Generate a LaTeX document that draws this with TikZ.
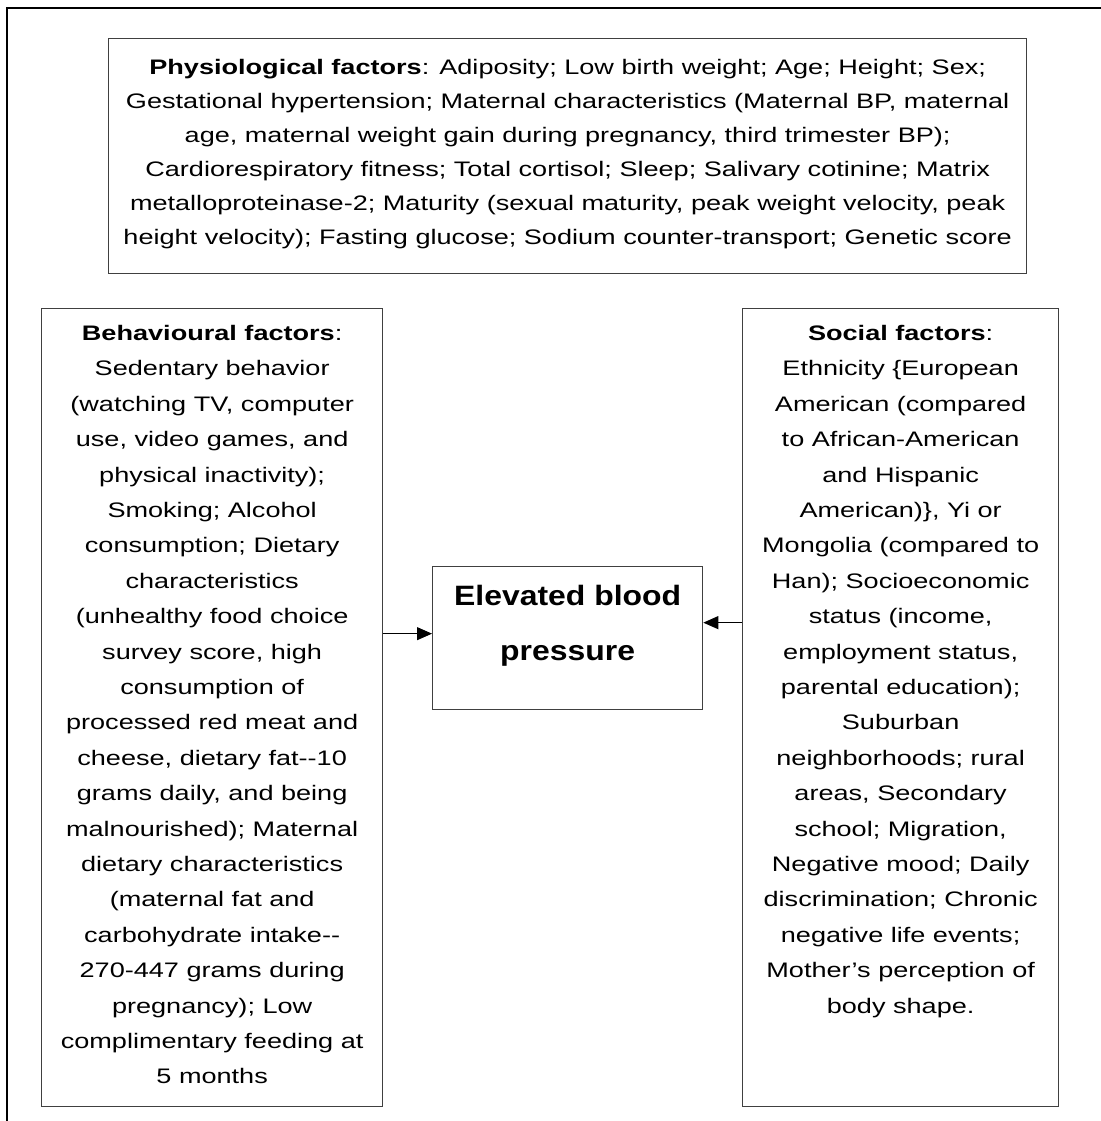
\documentclass[tikz,border=0pt]{standalone}
\usepackage{fontspec}
\setmainfont{Liberation Sans}[FakeStretch=1.29]
\newfontfamily\bpfont{Liberation Sans}[FakeStretch=1.14]
\usetikzlibrary{arrows.meta,positioning,calc}
\tikzset{
  factorbox/.style={draw=black!75,line width=0.65pt,inner sep=0pt,anchor=north west},
  factortext/.style={inner sep=0pt,align=center,anchor=north,font=\fontsize{10.5}{17.7}\selectfont},
  arr/.style={-{Triangle[length=7.5pt,width=6.5pt]},line width=0.5pt}
}
\begin{document}
\begin{tikzpicture}[x=0.5pt,y=-0.5pt]
\useasboundingbox (0,0) rectangle (1101,1121);
\draw[line width=1pt] (7,1121)--(7,8)--(1101,8);
% boxes
\node[factorbox,minimum width=459pt,minimum height=117.5pt] (physbox) at (108,38){};
\node[factorbox,minimum width=170.5pt,minimum height=399pt] (behbox) at (41,308){};
\node[factorbox,minimum width=158pt,minimum height=399pt] (socbox) at (742,308){};
\node[factorbox,minimum width=135pt,minimum height=71.5pt] (bpbox) at (432,566){};
% texts
\node[factortext,font=\fontsize{10.5}{17}\selectfont] (phystext) at ([yshift=-10.4pt]physbox.north)
 {\textbf{Physiological factors}: Adiposity; Low birth weight; Age; Height; Sex;\\
 Gestational hypertension; Maternal characteristics (Maternal BP, maternal\\
 age, maternal weight gain during pregnancy, third trimester BP);\\
 Cardiorespiratory fitness; Total cortisol; Sleep; Salivary cotinine; Matrix\\
 metalloproteinase-2; Maturity (sexual maturity, peak weight velocity, peak\\
 height velocity); Fasting glucose; Sodium counter-transport; Genetic score};
\node[factortext] (behtext) at ([yshift=-8.4pt]behbox.north)
 {\textbf{Behavioural factors}:\\ Sedentary behavior\\ (watching TV, computer\\
 use, video games, and\\ physical inactivity);\\ Smoking; Alcohol\\
 consumption; Dietary\\ characteristics\\ (unhealthy food choice\\
 survey score, high\\ consumption of\\ processed red meat and\\
 cheese, dietary fat{-}{-}10\\ grams daily, and being\\ malnourished); Maternal\\
 dietary characteristics\\ (maternal fat and\\ carbohydrate intake{-}{-}\\
 270-447 grams during\\ pregnancy); Low\\ complimentary feeding at\\ 5 months};
\node[factortext] (soctext) at ([yshift=-8.4pt]socbox.north)
 {\textbf{Social factors}:\\ Ethnicity \{European\\ American (compared\\
 to African-American\\ and Hispanic\\ American)\}, Yi or\\
 Mongolia (compared to\\ Han); Socioeconomic\\ status (income,\\
 employment status,\\ parental education);\\ Suburban\\
 neighborhoods; rural\\ areas, Secondary\\ school; Migration,\\
 Negative mood; Daily\\ discrimination; Chronic\\ negative life events;\\
 Mother’s perception of\\ body shape.};
\node[factortext,font=\bpfont\fontsize{14}{27.5}\selectfont\bfseries] (bptext) at ([yshift=-9.3pt]bpbox.north)
 {Elevated blood\\ pressure};
% arrows
\draw[arr] ($(behbox.east |- bpbox.west)+(0,-4.5)$) -- ($(bpbox.west)+(0,-4.5)$);
\draw[arr] ($(socbox.west |- bpbox.east)+(0,-15.5)$) -- ($(bpbox.east)+(0,-15.5)$);
\end{tikzpicture}
\end{document}
